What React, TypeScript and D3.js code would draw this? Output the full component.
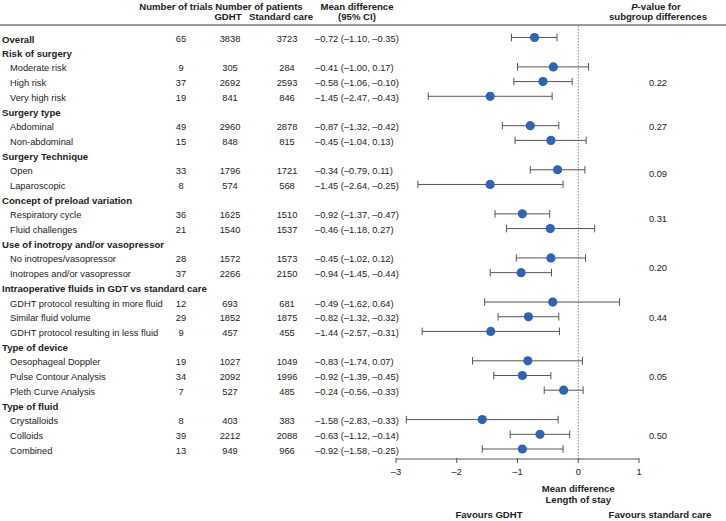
import React from "react";
import * as d3 from "d3";

const rowLabels = [
  "Overall",
  "Risk of surgery",
  "Moderate risk",
  "High risk",
  "Very high risk",
  "Surgery type",
  "Abdominal",
  "Non-abdominal",
  "Surgery Technique",
  "Open",
  "Laparoscopic",
  "Concept of preload variation",
  "Respiratory cycle",
  "Fluid challenges",
  "Use of inotropy and/or vasopressor",
  "No inotropes/vasopressor",
  "Inotropes and/or vasopressor",
  "Intraoperative fluids in GDT vs standard care",
  "GDHT protocol resulting in more fluid",
  "Similar fluid volume",
  "GDHT protocol resulting in less fluid",
  "Type of device",
  "Oesophageal Doppler",
  "Pulse Contour Analysis",
  "Pleth Curve Analysis",
  "Type of fluid",
  "Crystalloids",
  "Colloids",
  "Combined",
];
const rowKinds = [
  "total", "group", "item", "item", "item", "group", "item", "item", "group", "item", "item",
  "group", "item", "item", "group", "item", "item", "group", "item", "item", "item",
  "group", "item", "item", "item", "group", "item", "item", "item",
];
const trials: (number | null)[] = [
  65, null, 9, 37, 19, null, 49, 15, null, 33, 8, null, 36, 21, null, 28, 37, null, 12, 29, 9,
  null, 19, 34, 7, null, 8, 39, 13,
];
const gdhtN: (number | null)[] = [
  3838, null, 305, 2692, 841, null, 2960, 848, null, 1796, 574, null, 1625, 1540, null, 1572, 2266,
  null, 693, 1852, 457, null, 1027, 2092, 527, null, 403, 2212, 949,
];
const stdN: (number | null)[] = [
  3723, null, 284, 2593, 846, null, 2878, 815, null, 1721, 568, null, 1510, 1537, null, 1573, 2150,
  null, 681, 1875, 455, null, 1049, 1996, 485, null, 383, 2088, 966,
];
const mdText: (string | null)[] = [
  "–0.72 (–1.10, –0.35)", null,
  "–0.41 (–1.00, 0.17)", "–0.58 (–1.06, –0.10)", "–1.45 (–2.47, –0.43)", null,
  "–0.87 (–1.32, –0.42)", "–0.45 (–1.04, 0.13)", null,
  "–0.34 (–0.79, 0.11)", "–1.45 (–2.64, –0.25)", null,
  "–0.92 (–1.37, –0.47)", "–0.46 (–1.18, 0.27)", null,
  "–0.45 (–1.02, 0.12)", "–0.94 (–1.45, –0.44)", null,
  "–0.49 (–1.62, 0.64)", "–0.82 (–1.32, –0.32)", "–1.44 (–2.57, –0.31)", null,
  "–0.83 (–1.74, 0.07)", "–0.92 (–1.39, –0.45)", "–0.24 (–0.56, –0.33)", null,
  "–1.58 (–2.83, –0.33)", "–0.63 (–1.12, –0.14)", "–0.92 (–1.58, –0.25)",
];
// plotted values
const meanVal: (number | null)[] = [
  -0.72, null, -0.41, -0.58, -1.45, null, -0.79, -0.45, null, -0.34, -1.45, null, -0.92, -0.46,
  null, -0.45, -0.94, null, -0.42, -0.82, -1.44, null, -0.83, -0.92, -0.24, null, -1.58, -0.63,
  -0.92,
];
const loVal: (number | null)[] = [
  -1.1, null, -1.0, -1.06, -2.47, null, -1.25, -1.04, null, -0.79, -2.64, null, -1.37, -1.18,
  null, -1.02, -1.45, null, -1.54, -1.32, -2.57, null, -1.74, -1.39, -0.56, null, -2.83, -1.12,
  -1.58,
];
const hiVal: (number | null)[] = [
  -0.35, null, 0.17, -0.1, -0.43, null, -0.32, 0.13, null, 0.11, -0.25, null, -0.47, 0.27, null,
  0.12, -0.44, null, 0.68, -0.32, -0.31, null, 0.07, -0.45, 0.08, null, -0.33, -0.14, -0.25,
];
const pValues = ["0.22", "0.27", "0.09", "0.31", "0.20", "0.44", "0.05", "0.50"];
const pValueRow = [3, 6, 9.2, 12.25, 15.6, 19, 23, 27];
const xTicks = [-3, -2, -1, 0, 1];

const W = 726;
const H = 521;
const FONT = "'Liberation Sans', Arial, Helvetica, sans-serif";
const TEXT = "#222";
const DOT = "#3163b3";
const WHISK = "#555";
const FS = 9.3;
const FSB = 9.6;

export default function App() {
  const x = d3.scaleLinear().domain([-3, 1]).range([396, 639]);
  const y = d3.scaleLinear().domain([0, rowLabels.length - 1]).range([37.5, 449]);
  const ty = (i: number) => y(i) + 1.5;
  const cap = 3.8;

  return (
    <svg
      width={W}
      height={H}
      style={{ position: "absolute", left: 0, top: 0, background: "#fff" }}
      fontFamily={FONT}
      fontSize={FS}
    >
      <rect width={W} height={H} fill="#fff" />
      {/* header */}
      <g fontWeight="bold" fontSize={FSB} fill={TEXT} dominantBaseline="central" textAnchor="middle">
        <text x={176} y={6}>Number of trials</text>
        <text x={259} y={6}>Number of patients</text>
        <text x={228} y={16.5}>GDHT</text>
        <text x={281} y={16.5}>Standard care</text>
        <text x={357} y={6}>Mean difference</text>
        <text x={357} y={16.5}>(95% CI)</text>
        <text x={656} y={6}>
          <tspan fontStyle="italic">P</tspan>-value for
        </text>
        <text x={658} y={16.5}>subgroup differences</text>
      </g>
      <line x1={0} x2={W} y1={25} y2={25} stroke="#777" strokeWidth={1.6} />

      {/* reference line */}
      <line
        x1={x(0)}
        x2={x(0)}
        y1={26}
        y2={459}
        stroke="#888"
        strokeWidth={1}
        strokeDasharray="1.5,1.5"
      />

      {/* rows */}
      {rowLabels.map((lab, i) => {
        const kind = rowKinds[i];
        const isItem = kind === "item";
        return (
          <g key={i} fill={TEXT} dominantBaseline="central">
            <text
              x={isItem ? 10 : 2}
              y={ty(i)}
              fontWeight={isItem ? "normal" : "bold"}
              fontSize={isItem ? FS : FSB}
            >
              {lab}
            </text>
            {trials[i] !== null && (
              <text x={181} y={ty(i)} textAnchor="middle">{trials[i]}</text>
            )}
            {gdhtN[i] !== null && (
              <text x={230} y={ty(i)} textAnchor="middle">{gdhtN[i]}</text>
            )}
            {stdN[i] !== null && (
              <text x={287} y={ty(i)} textAnchor="middle">{stdN[i]}</text>
            )}
            {mdText[i] !== null && (
              <text x={315} y={ty(i)}>{mdText[i]}</text>
            )}
          </g>
        );
      })}

      {/* CI whiskers and dots */}
      {meanVal.map((m, i) => {
        if (m === null) return null;
        const lo = loVal[i] as number;
        const hi = hiVal[i] as number;
        const cy = y(i);
        return (
          <g key={"ci" + i}>
            <line x1={x(lo)} x2={x(hi)} y1={cy} y2={cy} stroke={WHISK} strokeWidth={1} />
            <line x1={x(lo)} x2={x(lo)} y1={cy - cap} y2={cy + cap} stroke={WHISK} strokeWidth={1} />
            <line x1={x(hi)} x2={x(hi)} y1={cy - cap} y2={cy + cap} stroke={WHISK} strokeWidth={1} />
            <circle cx={x(m)} cy={cy} r={4.6} fill={DOT} />
          </g>
        );
      })}

      {/* p-values */}
      {pValues.map((p, k) => (
        <text
          key={"p" + k}
          x={658}
          y={y(pValueRow[k]) + 1.5}
          textAnchor="middle"
          dominantBaseline="central"
          fill={TEXT}
        >
          {p}
        </text>
      ))}

      {/* axis */}
      <g>
        <line x1={x(-3)} x2={x(1)} y1={459} y2={459} stroke={WHISK} strokeWidth={1} />
        {xTicks.map((t) => (
          <g key={"t" + t}>
            <line x1={x(t)} x2={x(t)} y1={458} y2={463} stroke={WHISK} strokeWidth={1} />
            <text
              x={x(t)}
              y={472}
              textAnchor="middle"
              dominantBaseline="central"
              fill={TEXT}
            >
              {t < 0 ? "–" + Math.abs(t) : String(t)}
            </text>
          </g>
        ))}
      </g>
      <g fontWeight="bold" fontSize={FSB} fill={TEXT} dominantBaseline="central" textAnchor="middle">
        <text x={x(0)} y={488}>Mean difference</text>
        <text x={x(0)} y={499.5}>Length of stay</text>
        <text x={489} y={514.5}>Favours GDHT</text>
        <text x={660} y={514.5}>Favours standard care</text>
      </g>
    </svg>
  );
}
